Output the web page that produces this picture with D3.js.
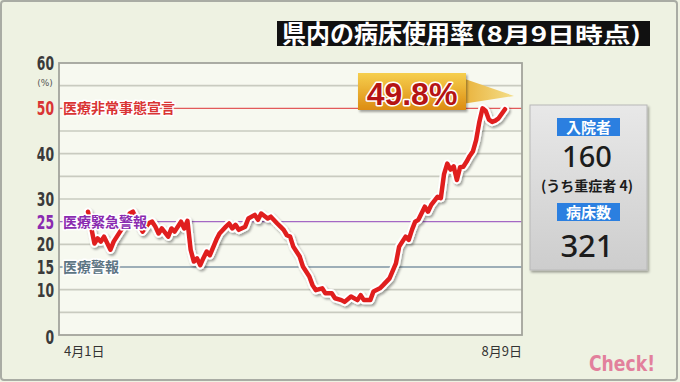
<!DOCTYPE html>
<html>
<head>
<meta charset="utf-8">
<script src="https://cdn.jsdelivr.net/npm/d3@7"></script>
<style>
  html, body { margin: 0; padding: 0; background: #eef2e2; }
  svg { display: block; }
  .jp { font-family: "Noto Sans CJK JP", "Noto Sans", sans-serif; }
  .num { font-family: "DejaVu Sans", sans-serif; }
</style>
</head>
<body>
<div id="chart"></div>
<script>
// 日付（4月1日からの日数）と病床使用率(%)
const days = [0, 2, 3, 4, 5, 7, 8, 9, 11, 13, 14, 17, 19, 20, 21, 22, 23, 25, 26, 27,
  29, 30, 31, 32, 33, 34, 35, 36, 37, 38, 40, 41, 43, 44, 45, 46, 47, 49, 50, 52,
  53, 54, 56, 57, 59, 60, 61, 62, 63, 64, 66, 67, 68, 69, 70, 71, 73, 74, 76, 77,
  79, 80, 82, 84, 85, 86, 88, 89, 91, 92, 94, 96, 97, 99, 100, 101, 102, 103, 105, 106,
  107, 109, 110, 111, 112, 113, 114, 115, 116, 117, 118, 119, 120, 121, 122, 123, 124, 125, 126, 127,
  128, 129, 130];
const rate = [27.2, 20.2, 21.3, 20.6, 21.7, 18.8, 20.6, 21.7, 23.9, 26.8, 27.2, 22.8, 24.7, 25.0, 23.9, 22.4, 23.5, 21.7, 23.5, 22.8,
  25.0, 23.5, 25.2, 18.8, 16.2, 16.9, 15.4, 17.0, 18.4, 17.6, 21.0, 22.4, 23.9, 24.6, 23.5, 24.3, 23.2, 23.9, 25.7, 26.5,
  25.4, 26.8, 25.7, 26.1, 24.6, 23.9, 23.2, 22.0, 21.7, 19.5, 17.3, 15.1, 14.0, 12.9, 11.0, 9.9, 10.3, 9.2, 9.2, 8.1,
  7.7, 7.3, 8.5, 7.7, 8.8, 7.7, 7.7, 9.6, 10.3, 11.0, 12.5, 15.8, 19.5, 21.7, 21.0, 23.2, 25.0, 25.4, 28.3, 27.2,
  28.7, 30.5, 30.2, 35.5, 37.8, 36.5, 37.2, 34.2, 37.0, 37.1, 38.2, 39.5, 40.5, 43.0, 47.0, 50.0, 49.4, 47.5, 47.0, 47.3,
  47.8, 48.8, 49.8];

const xLabels = ["4月1日", "8月9日"];
const yTicks = [0, 10, 15, 20, 25, 30, 40, 50, 60];
const levels = [50, 25, 15];
const levelNames = ["医療非常事態宣言", "医療緊急警報", "医療警報"];
const levelColors = ["#d93434", "#8a2bb0", "#5d7584"];
const lineColors = ["#e25a5a", "#a468c4", "#7f95a4"];

const title = "県内の病床使用率";
const titleSub = "(8月9日時点)";
const latest = "49.8%";
const inpatients = "160";
const severe = "(うち重症者 4)";
const beds = "321";

const W = 680, H = 382;
const svg = d3.select("#chart").append("svg")
  .attr("width", W).attr("height", H);

const defs = svg.append("defs");
const shadow = defs.append("filter").attr("id", "shadow")
  .attr("x", "-10%").attr("y", "-10%").attr("width", "130%").attr("height", "130%");
shadow.append("feDropShadow").attr("dx", 1.5).attr("dy", 2).attr("stdDeviation", 1.2)
  .attr("flood-color", "#000").attr("flood-opacity", 0.35);

const gold = defs.append("linearGradient").attr("id", "gold")
  .attr("x1", 0).attr("y1", 0).attr("x2", 0).attr("y2", 1);
gold.append("stop").attr("offset", "0%").attr("stop-color", "#f6cf4e");
gold.append("stop").attr("offset", "100%").attr("stop-color", "#dc8c12");
const tail = defs.append("linearGradient").attr("id", "tail")
  .attr("x1", 0).attr("y1", 0).attr("x2", 1).attr("y2", 0);
tail.append("stop").attr("offset", "0%").attr("stop-color", "#e9b13a");
tail.append("stop").attr("offset", "100%").attr("stop-color", "#f4df8a");
const panel = defs.append("linearGradient").attr("id", "panel")
  .attr("x1", 0).attr("y1", 0).attr("x2", 0).attr("y2", 1);
panel.append("stop").attr("offset", "0%").attr("stop-color", "#e8e8e8");
panel.append("stop").attr("offset", "100%").attr("stop-color", "#cdcdcd");

// 外枠
svg.append("rect").attr("x", 1).attr("y", 1).attr("width", W - 4).attr("height", H - 3)
  .attr("fill", "#eef2e2").attr("stroke", "#a9aca4").attr("stroke-width", 2).attr("rx", 3);

// スケール
const plot = {left: 59, right: 522, top: 63, bottom: 335};
const x = d3.scaleLinear().domain([0, 130]).range([88, 505]);
const y = d3.scaleLinear().domain([0, 60]).range([plot.bottom, plot.top]);

// グラフ領域
svg.append("rect")
  .attr("x", plot.left).attr("y", plot.top)
  .attr("width", plot.right - plot.left).attr("height", plot.bottom - plot.top)
  .attr("fill", "#f7f9f0");

// 5%ごとの目盛線
svg.append("g").selectAll("line")
  .data(d3.range(5, 60, 5).filter(v => !levels.includes(v)))
  .join("line")
    .attr("x1", plot.left).attr("x2", plot.right)
    .attr("y1", d => y(d)).attr("y2", d => y(d))
    .attr("stroke", "#c9cbc0").attr("stroke-width", 1.6);

// 警報ライン
svg.append("g").selectAll("line")
  .data(levels)
  .join("line")
    .attr("x1", plot.left).attr("x2", plot.right)
    .attr("y1", d => y(d)).attr("y2", d => y(d))
    .attr("stroke", (d, i) => lineColors[i]).attr("stroke-width", 1.4);

// 枠
svg.append("rect")
  .attr("x", plot.left).attr("y", plot.top)
  .attr("width", plot.right - plot.left).attr("height", plot.bottom - plot.top)
  .attr("fill", "none").attr("stroke", "#a2a49c").attr("stroke-width", 1.8);

// Y軸ラベル（縦長の数字）
svg.append("g").selectAll("text")
  .data(yTicks)
  .join("text")
    .attr("class", "num")
    .attr("x", 54)
    .attr("y", d => y(d) + (d === 0 ? 9 : 7))
    .attr("text-anchor", "end")
    .attr("font-size", 20)
    .attr("font-weight", 600)
    .attr("textLength", d => String(d).length * 8.6)
    .attr("lengthAdjust", "spacingAndGlyphs")
    .attr("fill", d => d === 50 ? levelColors[0] : d === 25 ? levelColors[1] : "#3a3a3a")
    .text(d => d);

svg.append("text").attr("class", "num")
  .attr("x", 45).attr("y", 86).attr("text-anchor", "middle")
  .attr("font-size", 9).attr("fill", "#555").text("(%)");

// X軸ラベル
svg.append("g").selectAll("text")
  .data(xLabels)
  .join("text")
    .attr("class", "jp")
    .attr("x", (d, i) => i === 0 ? 64 : plot.right)
    .attr("y", 356)
    .attr("text-anchor", (d, i) => i === 0 ? "start" : "end")
    .attr("font-size", 13)
    .attr("fill", "#333")
    .text(d => d);

// 折れ線
const pts = days.map((d, i) => [x(d), y(rate[i])]);
const line = d3.line();
svg.append("path")
  .attr("d", line(pts))
  .attr("fill", "none").attr("stroke", "#ffffff").attr("stroke-width", 8.5)
  .attr("stroke-linejoin", "round").attr("stroke-linecap", "round")
  .attr("filter", "url(#shadow)");
svg.append("path")
  .attr("d", line(pts))
  .attr("fill", "none").attr("stroke", "#e01e1e").attr("stroke-width", 4.5)
  .attr("stroke-linejoin", "round").attr("stroke-linecap", "round");

// 警報ラベル
svg.append("g").selectAll("text")
  .data(levels)
  .join("text")
    .attr("class", "jp")
    .attr("x", 63)
    .attr("y", d => y(d) + 5)
    .attr("font-size", 14)
    .attr("font-weight", 700)
    .attr("fill", (d, i) => levelColors[i])
    .attr("stroke", "#ffffff").attr("stroke-width", 3)
    .attr("paint-order", "stroke")
    .attr("stroke-linejoin", "round")
    .text((d, i) => levelNames[i]);

// 最新値の吹き出し
const callout = svg.append("g");
callout.append("polygon")
  .attr("points", "462,78 514,96 462,104")
  .attr("fill", "url(#tail)");
callout.append("rect")
  .attr("x", 358).attr("y", 73).attr("width", 108).attr("height", 37)
  .attr("fill", "url(#gold)").attr("filter", "url(#shadow)");
callout.append("text")
  .attr("x", 412).attr("y", 105)
  .attr("text-anchor", "middle")
  .attr("font-family", "Liberation Sans, Arial, sans-serif")
  .attr("font-size", 32).attr("font-weight", 700)
  .attr("fill", "#b51414")
  .attr("stroke", "#ffffff").attr("stroke-width", 3).attr("paint-order", "stroke")
  .attr("stroke-linejoin", "round")
  .text(latest);

// 右パネル
const side = svg.append("g");
side.append("rect")
  .attr("x", 530).attr("y", 105).attr("width", 117).attr("height", 165)
  .attr("fill", "url(#panel)").attr("stroke", "#b8b8b8").attr("stroke-width", 1)
  .attr("filter", "url(#shadow)");

const tags = [{label: "入院者", y: 118}, {label: "病床数", y: 203}];
side.selectAll("rect.tag")
  .data(tags)
  .join("rect")
    .attr("class", "tag")
    .attr("x", 557).attr("y", d => d.y).attr("width", 63).attr("height", 18)
    .attr("fill", "#2b7fe0");
side.selectAll("text.tag")
  .data(tags)
  .join("text")
    .attr("class", "jp tag")
    .attr("x", 588.5).attr("y", d => d.y + 15)
    .attr("text-anchor", "middle")
    .attr("font-size", 15).attr("font-weight", 700)
    .attr("fill", "#ffffff")
    .text(d => d.label);

side.append("text")
  .attr("x", 587).attr("y", 167).attr("text-anchor", "middle")
  .attr("font-family", "Noto Sans, sans-serif").attr("font-size", 29).attr("font-weight", 500)
  .attr("fill", "#1c1c1c").text(inpatients);
side.append("text").attr("class", "jp")
  .attr("x", 587).attr("y", 191).attr("text-anchor", "middle")
  .attr("font-size", 14).attr("font-weight", 700)
  .attr("fill", "#1c1c1c").text(severe);
side.append("text")
  .attr("x", 587).attr("y", 257).attr("text-anchor", "middle")
  .attr("font-family", "Noto Sans, sans-serif").attr("font-size", 31).attr("font-weight", 500)
  .attr("fill", "#1c1c1c").text(beds);

// タイトル
svg.append("rect")
  .attr("x", 277).attr("y", 21).attr("width", 373).attr("height", 25)
  .attr("fill", "#111111");
svg.append("text").attr("class", "jp")
  .attr("x", 282).attr("y", 43)
  .attr("fill", "#ffffff").attr("font-weight", 700)
  .attr("font-size", 25)
  .attr("textLength", 192).attr("lengthAdjust", "spacingAndGlyphs")
  .text(title);
svg.append("text").attr("class", "jp")
  .attr("x", 476).attr("y", 42)
  .attr("fill", "#ffffff").attr("font-weight", 700)
  .attr("font-size", 21)
  .attr("textLength", 165).attr("lengthAdjust", "spacingAndGlyphs")
  .text(titleSub);

// ロゴ
svg.append("text")
  .attr("x", 655).attr("y", 371).attr("text-anchor", "end")
  .attr("font-family", "DejaVu Sans, sans-serif")
  .attr("font-size", 21).attr("font-weight", 700)
  .attr("textLength", 66).attr("lengthAdjust", "spacingAndGlyphs")
  .attr("fill", "#e2809c").text("Check!");
</script>
</body>
</html>
